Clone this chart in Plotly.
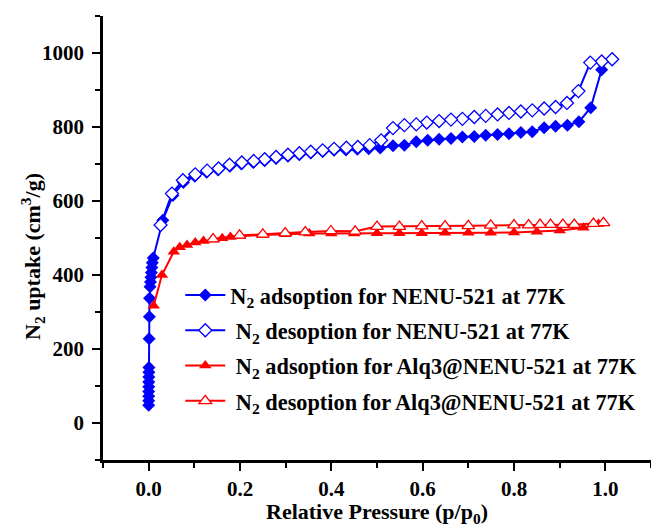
import plotly.graph_objects as go

# N2 isotherms at 77 K: relative pressure (p/p0) vs uptake (cm3/g)
nenu_ads_p = [0.00002, 0.00004, 0.00007, 0.0001, 0.00015, 0.0002, 0.0003, 0.0004, 0.0006,
              0.001, 0.0015, 0.002, 0.003, 0.004, 0.005, 0.006, 0.007, 0.008, 0.01,
              0.031, 0.053, 0.076, 0.101, 0.127, 0.152, 0.178, 0.203, 0.229, 0.254, 0.279,
              0.305, 0.33, 0.355, 0.381, 0.406, 0.432, 0.457, 0.482, 0.507, 0.535, 0.56,
              0.586, 0.611, 0.636, 0.662, 0.687, 0.713, 0.738, 0.764, 0.789, 0.815, 0.84,
              0.866, 0.891, 0.917, 0.942, 0.968, 0.992]
nenu_ads_v = [48, 60, 72, 85, 98, 111, 124, 137, 150,
              228, 287, 337, 368, 381, 394, 407, 420, 433, 446,
              548, 615, 650, 667, 678, 684, 694, 700, 704, 709, 715,
              721, 725, 730, 734, 737, 738, 740, 741, 743, 749, 751,
              760, 764, 767, 769, 773, 774, 778, 780, 782, 785, 787,
              798, 802, 805, 814, 852, 955]

nenu_des_p = [1.015, 0.992, 0.967, 0.941, 0.916, 0.891, 0.866, 0.840, 0.815, 0.789, 0.764,
              0.738, 0.713, 0.687, 0.662, 0.636, 0.609, 0.586, 0.560, 0.535, 0.509, 0.484,
              0.458, 0.433, 0.406, 0.381, 0.355, 0.330, 0.305, 0.279, 0.254, 0.230, 0.204,
              0.177, 0.153, 0.128, 0.102, 0.075, 0.051, 0.026]
nenu_des_v = [983, 977, 974, 897, 865, 854, 850, 845, 842, 838, 834,
              830, 827, 822, 820, 816, 812, 807, 805, 797, 764, 751,
              746, 744, 741, 737, 733, 729, 725, 719, 713, 708, 704,
              698, 688, 682, 672, 656, 620, 535]

alq_ads_p = [0.011, 0.029, 0.055, 0.068, 0.084, 0.102, 0.12, 0.141, 0.161, 0.179, 0.199,
             0.25, 0.299, 0.352, 0.4, 0.45, 0.5, 0.549, 0.598, 0.649, 0.7, 0.749, 0.8,
             0.85, 0.9, 0.952, 0.985]
alq_ads_v = [317, 400, 463, 475, 481, 488, 492, 496, 499, 503, 505,
             508, 510, 512, 512, 512, 513, 513, 513, 514, 514, 514, 515,
             517, 520, 528, 538]

alq_des_p = [0.996, 0.974, 0.932, 0.907, 0.88, 0.857, 0.832, 0.80, 0.749, 0.70, 0.649,
             0.598, 0.549, 0.50, 0.452, 0.399, 0.343, 0.299, 0.25, 0.199, 0.141]
alq_des_v = [541, 539, 536, 536, 536, 536, 535, 535, 534, 533, 532,
             532, 531, 531, 518, 519, 516, 513, 510, 507, 497]

series_names = [
    "N<sub>2</sub> adsoption for NENU-521 at 77K",
    "\u00a0N<sub>2</sub> desoption for NENU-521 at 77K",
    "\u00a0N<sub>2</sub> adsoption for Alq3@NENU-521 at 77K",
    "\u00a0N<sub>2</sub> desoption for Alq3@NENU-521 at 77K",
]

BLUE = "#0000FF"
RED = "#FF0000"
FONT = "Liberation Serif"

fig = go.Figure()

fig.add_trace(go.Scatter(
    x=nenu_ads_p, y=nenu_ads_v, name=series_names[0], legendgroup="a",
    mode="lines+markers", line=dict(color=BLUE, width=2),
    marker=dict(symbol="diamond", size=10, color=BLUE, line=dict(width=0)),
))
fig.add_trace(go.Scatter(
    x=nenu_des_p, y=nenu_des_v, name=series_names[1], legendgroup="b",
    mode="lines+markers", line=dict(color=BLUE, width=2),
    marker=dict(symbol="diamond", size=10, color="white", line=dict(color=BLUE, width=1.3)),
))
fig.add_trace(go.Scatter(
    x=alq_ads_p, y=alq_ads_v, name=series_names[2], legendgroup="c",
    mode="lines+markers", line=dict(color=RED, width=2),
    marker=dict(symbol="triangle-up", size=11, color=RED, line=dict(width=0)),
))
fig.add_trace(go.Scatter(
    x=alq_des_p, y=alq_des_v, name=series_names[3], legendgroup="d",
    mode="lines+markers", line=dict(color=RED, width=2),
    marker=dict(symbol="triangle-up", size=11, color="white", line=dict(color=RED, width=1.3)),
))

axis_common = dict(
    showline=True, linecolor="black", linewidth=2.5, mirror=False,
    showgrid=False, zeroline=False,
    ticks="outside", ticklen=8, tickwidth=2, tickcolor="black",
    tickfont=dict(family=FONT, size=21, color="black", weight="bold"),
)

fig.update_xaxes(
    range=[-0.1, 1.1], tick0=0, dtick=0.2, tickformat=".1f",
    minor=dict(dtick=0.1, tick0=0.1, ticks="outside", ticklen=5, tickwidth=2, tickcolor="black"),
    title=dict(text="Relative Pressure (p/p<sub>0</sub>)",
               font=dict(family=FONT, size=22, color="black", weight="bold"), standoff=4),
    **axis_common,
)
fig.update_yaxes(
    range=[-100, 1100], tick0=0, dtick=200, ticklabelstandoff=4,
    minor=dict(dtick=100, tick0=100, ticks="outside", ticklen=5, tickwidth=2, tickcolor="black"),
    **axis_common,
)

fig.add_annotation(
    text="N<sub>2</sub> uptake (cm<sup>3</sup>/g)", textangle=-90,
    xref="paper", yref="paper", x=-0.129, y=0.458, xanchor="center", yanchor="middle",
    showarrow=False, font=dict(family=FONT, size=22, color="black", weight="bold"),
)

fig.update_layout(
    width=651, height=527,
    margin=dict(l=103, r=0, t=16, b=67, autoexpand=False),
    paper_bgcolor="white", plot_bgcolor="white",
    font=dict(family=FONT, color="black", weight="bold"),
    legend=dict(
        x=0.141, y=0.419, xanchor="left", yanchor="top",
        bgcolor="rgba(0,0,0,0)", borderwidth=0,
        font=dict(family=FONT, size=22.3, color="black", weight="bold"),
        traceorder="grouped", tracegroupgap=3.3, itemwidth=40,
    ),
    showlegend=True,
)

fig.write_html("out.html")
